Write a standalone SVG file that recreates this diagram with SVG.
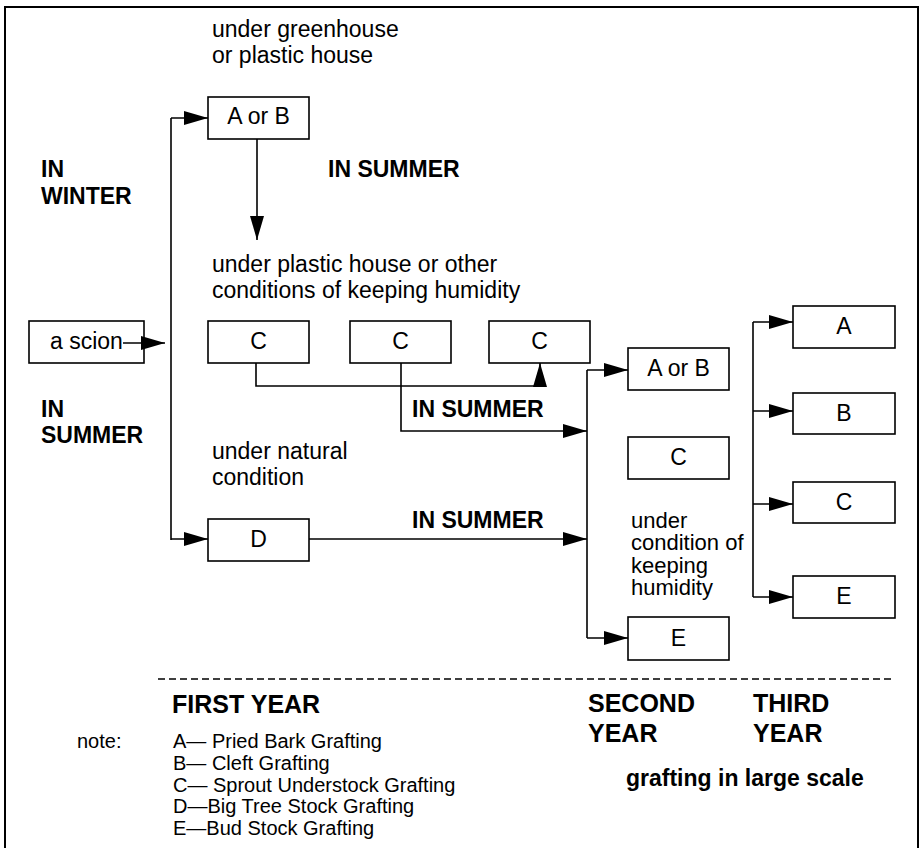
<svg xmlns="http://www.w3.org/2000/svg" width="920" height="848" viewBox="0 0 920 848">
<defs>
<style>
.t{font-family:"Liberation Sans",Arial,sans-serif;font-size:23px;fill:#000}
.s{font-family:"Liberation Sans",Arial,sans-serif;font-size:22px;fill:#000}
.b{font-family:"Liberation Sans",Arial,sans-serif;font-size:23px;font-weight:bold;fill:#000}
.y{font-family:"Liberation Sans",Arial,sans-serif;font-size:25px;font-weight:bold;fill:#000}
.n{font-family:"Liberation Sans",Arial,sans-serif;font-size:20px;fill:#000}
.box{fill:#fff;stroke:#000;stroke-width:1.6}
.c{fill:none;stroke:#000;stroke-width:1.6}
</style>
<marker id="ah" viewBox="0 0 24 14" refX="24" refY="7" markerWidth="24" markerHeight="14" markerUnits="userSpaceOnUse" orient="auto">
<path d="M0,0 L24,7 L0,14 z" fill="#000"/>
</marker>
</defs>
<rect width="920" height="848" fill="#fff"/>
<path d="M5,848 V7 H918 V848" fill="none" stroke="#000" stroke-width="2"/>

<g id="labels">
<text class="t" x="212" y="37">under greenhouse</text>
<text class="t" x="212" y="63">or plastic house</text>
<text class="b" x="41" y="177">IN</text>
<text class="b" x="41" y="204">WINTER</text>
<text class="b" x="328" y="177">IN SUMMER</text>
<text class="t" x="212" y="272">under plastic house or other</text>
<text class="t" x="212" y="298">conditions of keeping humidity</text>
<text class="b" x="41" y="417">IN</text>
<text class="b" x="41" y="443">SUMMER</text>
<text class="b" x="412" y="417">IN SUMMER</text>
<text class="t" x="212" y="459">under natural</text>
<text class="t" x="212" y="485">condition</text>
<text class="b" x="412" y="528">IN SUMMER</text>
<text class="s" x="631" y="528">under</text>
<text class="s" x="631" y="550">condition of</text>
<text class="s" x="631" y="573">keeping</text>
<text class="s" x="631" y="595">humidity</text>
</g>

<g id="scion">
<rect class="box" x="29" y="321" width="115" height="42"/>
<text class="t" x="50" y="349">a scion</text>
</g>
<g id="AorB1"><rect class="box" x="208" y="97" width="101" height="42"/><text class="t" x="258.5" y="124" text-anchor="middle">A or B</text></g>
<g id="C1"><rect class="box" x="208" y="321" width="101" height="42"/><text class="t" x="258.5" y="349" text-anchor="middle">C</text></g>
<g id="C2"><rect class="box" x="350" y="321" width="101" height="42"/><text class="t" x="400.5" y="349" text-anchor="middle">C</text></g>
<g id="C3"><rect class="box" x="489" y="321" width="101" height="42"/><text class="t" x="539.5" y="349" text-anchor="middle">C</text></g>
<g id="D"><rect class="box" x="208" y="519" width="101" height="42"/><text class="t" x="258.5" y="547" text-anchor="middle">D</text></g>
<g id="AorB2"><rect class="box" x="628" y="348" width="101" height="42"/><text class="t" x="678.5" y="376" text-anchor="middle">A or B</text></g>
<g id="C4"><rect class="box" x="628" y="437" width="101" height="42"/><text class="t" x="678.5" y="465" text-anchor="middle">C</text></g>
<g id="E1"><rect class="box" x="628" y="617" width="101" height="43"/><text class="t" x="678.5" y="646" text-anchor="middle">E</text></g>
<g id="A3"><rect class="box" x="793" y="306" width="102" height="42"/><text class="t" x="844" y="334" text-anchor="middle">A</text></g>
<g id="B3"><rect class="box" x="793" y="393" width="102" height="41"/><text class="t" x="844" y="421" text-anchor="middle">B</text></g>
<g id="C5"><rect class="box" x="793" y="482" width="102" height="41"/><text class="t" x="844" y="510" text-anchor="middle">C</text></g>
<g id="E3"><rect class="box" x="793" y="576" width="102" height="42"/><text class="t" x="844" y="604" text-anchor="middle">E</text></g>

<g id="connectors">
<path class="c" d="M123,343 H165" marker-end="url(#ah)"/>
<path class="c" d="M171,118 V540"/>
<path class="c" d="M171,118 H208" marker-end="url(#ah)"/>
<path class="c" d="M171,539 H208" marker-end="url(#ah)"/>
<path class="c" d="M257,139 V240" marker-end="url(#ah)"/>
<path class="c" d="M256,363 V386 H540 V363" marker-end="url(#ah)"/>
<path class="c" d="M401,363 V431 H587" marker-end="url(#ah)"/>
<path class="c" d="M309,539 H587" marker-end="url(#ah)"/>
<path class="c" d="M587,370 V638"/>
<path class="c" d="M587,370 H628" marker-end="url(#ah)"/>
<path class="c" d="M587,638 H628" marker-end="url(#ah)"/>
<path class="c" d="M753,322 V597"/>
<path class="c" d="M753,322 H793" marker-end="url(#ah)"/>
<path class="c" d="M753,411 H793" marker-end="url(#ah)"/>
<path class="c" d="M753,504 H793" marker-end="url(#ah)"/>
<path class="c" d="M753,597 H793" marker-end="url(#ah)"/>
</g>

<g id="footer">
<line x1="158" y1="679" x2="891" y2="679" stroke="#000" stroke-width="1.6" stroke-dasharray="7,4"/>
<text class="y" x="172" y="713">FIRST YEAR</text>
<text class="y" x="588" y="712">SECOND</text>
<text class="y" x="588" y="742">YEAR</text>
<text class="y" x="753" y="712">THIRD</text>
<text class="y" x="753" y="742">YEAR</text>
<text class="b" x="626" y="786">grafting in large scale</text>
<text class="n" x="77" y="748">note:</text>
<text class="n" x="173" y="748">A— Pried Bark Grafting</text>
<text class="n" x="173" y="770">B— Cleft Grafting</text>
<text class="n" x="173" y="792">C— Sprout Understock Grafting</text>
<text class="n" x="173" y="813">D—Big Tree Stock Grafting</text>
<text class="n" x="173" y="835">E—Bud Stock Grafting</text>
</g>
</svg>
